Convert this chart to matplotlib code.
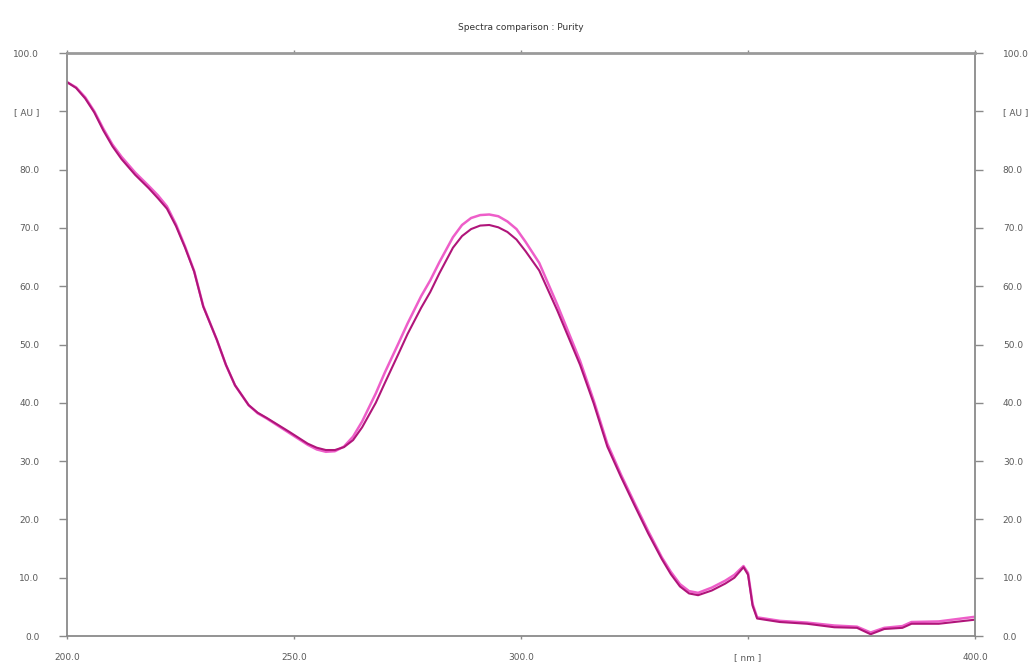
"""Spectra comparison : Purity — two overlaid UV spectra."""
import matplotlib
matplotlib.use("Agg")
import matplotlib.pyplot as plt

# wavelength grid (nm)
nm = [200, 202, 204, 206, 208, 210, 212, 215, 218, 220, 222, 224, 226, 228,
      230, 233, 235, 237, 240, 242, 244, 249, 253, 255, 257, 259, 261, 263,
      265, 268, 270, 273, 275, 278, 280, 282, 285, 287, 289, 291, 293, 295,
      297, 299, 301, 304, 308, 313, 316, 319, 322, 325, 328, 331, 333, 335,
      337, 339, 342, 345, 347, 349, 350, 351, 352, 357, 363, 369, 374, 377,
      380, 384, 386, 392, 400]

# dark spectrum (AU)
spec_dark = [95.0, 94.0, 92.2, 89.8, 86.7, 84.0, 81.8, 79.1, 76.8, 75.1,
             73.3, 70.3, 66.6, 62.5, 56.5, 50.8, 46.5, 43.0, 39.6, 38.3,
             37.4, 35.0, 33.0, 32.3, 31.9, 31.9, 32.4, 33.6, 35.8, 40.0,
             43.4, 48.4, 51.8, 56.3, 59.0, 62.2, 66.6, 68.6, 69.8, 70.4,
             70.5, 70.1, 69.3, 68.0, 66.0, 62.7, 55.8, 46.5, 39.9, 32.5,
             27.3, 22.4, 17.6, 13.2, 10.6, 8.5, 7.3, 7.0, 7.8, 9.0, 10.0,
             11.8, 10.5, 5.2, 3.0, 2.4, 2.1, 1.5, 1.4, 0.3, 1.2, 1.4, 2.1,
             2.1, 2.8]

# light spectrum (AU)
spec_light = [95.0, 94.1, 92.4, 90.0, 87.0, 84.3, 82.2, 79.5, 77.2, 75.6,
              73.7, 70.6, 66.8, 62.6, 56.6, 50.8, 46.5, 43.0, 39.6, 38.2,
              37.3, 34.8, 32.8, 32.0, 31.6, 31.7, 32.5, 34.2, 36.8, 41.6,
              45.2, 50.2, 53.6, 58.3, 61.0, 64.1, 68.4, 70.5, 71.7, 72.2,
              72.3, 72.0, 71.1, 69.8, 67.6, 64.0, 56.8, 47.2, 40.4, 33.0,
              27.7, 22.8, 18.0, 13.5, 11.0, 8.9, 7.7, 7.4, 8.3, 9.5, 10.5,
              12.0, 10.8, 5.5, 3.2, 2.6, 2.3, 1.8, 1.6, 0.6, 1.4, 1.7, 2.4,
              2.5, 3.3]

x_ticks = [200, 250, 300, 350, 400]
x_labels = ["200.0", "250.0", "300.0", "[ nm ]", "400.0"]
y_ticks = [0, 10, 20, 30, 40, 50, 60, 70, 80, 90, 100]
y_labels = ["0.0", "10.0", "20.0", "30.0", "40.0", "50.0", "60.0", "70.0",
            "80.0", "[ AU ]", "100.0"]

fig = plt.figure(figsize=(10.33, 6.65), dpi=100)
ax = fig.add_axes([0.0649, 0.0436, 0.879, 0.8767])

ax.plot(nm, spec_light, color="#ee5ec9", lw=1.8, solid_joinstyle="round")
ax.plot(nm, spec_dark, color="#b0157a", lw=1.5, solid_joinstyle="round")

ax.set_xlim(200, 400)
ax.set_ylim(0, 100)

ax.set_xticks(x_ticks)
ax.set_xticklabels(x_labels)
ax.set_yticks(y_ticks)
ax.set_yticklabels(y_labels)

grey = "#8a8a8a"
for side in ["left", "right", "bottom"]:
    ax.spines[side].set_color(grey)
    ax.spines[side].set_linewidth(1.3)
ax.spines["top"].set_color("#9a9a9a")
ax.spines["top"].set_linewidth(2.0)

ax.tick_params(axis="y", which="both", left=True, right=True,
               labelleft=True, labelright=True, direction="out",
               length=6, width=1.0, color=grey, labelsize=6.5,
               labelcolor="#5a5a5a", pad=14)
ax.tick_params(axis="x", which="both", bottom=True, top=True,
               direction="out", length=2.5, width=1.0, color=grey,
               labelsize=6.5, labelcolor="#5a5a5a", pad=10)

fig.text(0.504, 0.958, "Spectra comparison : Purity", ha="center",
         va="center", fontsize=6.5, color="#333333")

fig.savefig("out.png", dpi=100)
